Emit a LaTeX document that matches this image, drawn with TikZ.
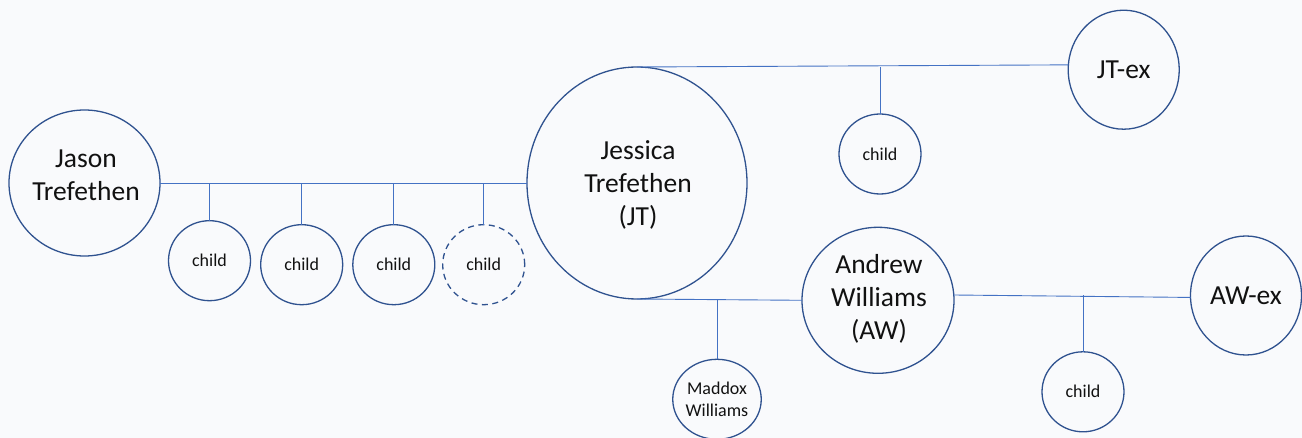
\documentclass[tikz,border=0pt]{standalone}
\usepackage{fontspec}
\setmainfont{Carlito}
\usetikzlibrary{shapes.geometric}
\definecolor{bgcol}{HTML}{F9FAFC}
\definecolor{ringcol}{HTML}{2F528F}
\definecolor{conncol}{HTML}{4472C4}
\definecolor{txtcol}{HTML}{111111}
\tikzset{
  person/.style={ellipse, draw=ringcol, line width=1.3pt, inner sep=0pt, outer sep=0pt,
    align=center, text=txtcol, font=\fontsize{27.5}{33}\selectfont},
  bigtext/.style={inner sep=0pt, align=center, text=txtcol, font=\fontsize{27.5}{33}\selectfont},
  kid/.style={ellipse, draw=ringcol, line width=1.3pt, inner sep=0pt, outer sep=0pt,
    align=center, text=txtcol, font=\fontsize{18}{21.7}\selectfont,
    minimum width=82pt, minimum height=80pt},
  maybekid/.style={kid, dash pattern=on 6pt off 4.5pt},
  conn/.style={draw=conncol, line width=0.9pt}
}
\begin{document}
\begin{tikzpicture}[x=1pt,y=-1pt]
\fill[bgcol] (0,0) rectangle (1302,438);
\useasboundingbox (0,0) rectangle (1302,438);

\node[person, minimum width=151pt, minimum height=146pt] (jason) at (84.5,183) {};
\node[bigtext] (jasontext) at (86,175) {Jason\\Trefethen};
\node[person, minimum width=220pt, minimum height=232pt] (jessica) at (637,183) {};
\node[bigtext] (jessicatext) at (638,185) {Jessica\\Trefethen\\(JT)};
\node[person, minimum width=111pt, minimum height=119pt] (jtex) at (1123.7,69.7) {JT-ex};
\node[person, minimum width=152pt, minimum height=146pt] (andrew) at (878,300.3) {};
\node[bigtext] (andrewtext) at (879,299) {Andrew\\Williams\\(AW)};
\node[person, minimum width=111pt, minimum height=119pt] (awex) at (1246,295.5) {AW-ex};

\node[kid] (c1) at (209.5,260.7) {child};
\node[kid] (c2) at (301.7,264.7) {child};
\node[kid] (c3) at (393.8,264.7) {child};
\node[maybekid] (c4) at (483.7,264.7) {child};
\node[kid] (tchild) at (880,154) {child};
\node[kid] (maddox) at (717,399.3) {Maddox\\Williams};
\node[kid] (rchild) at (1083,391.8) {child};

\draw[conn] (jason.east) -- (jessica.west);
\draw[conn] (c1.north) -- (c1.north |- jason.east);
\draw[conn] (c2.north) -- (c2.north |- jason.east);
\draw[conn] (c3.north) -- (c3.north |- jason.east);
\draw[conn] (c4.north) -- (c4.north |- jason.east);

\draw[conn] (jessica.north) -- (jtex.175);
\draw[conn] (tchild.north) -- (tchild.north |- jessica.north);

\draw[conn] (jessica.south) -- (andrew.west);
\draw[conn] (maddox.north) -- (maddox.north |- jessica.south);

\draw[conn] (andrew.4) -- (awex.182);
\draw[conn] (rchild.north) -- (rchild.north |- andrew.4);
\end{tikzpicture}
\end{document}
